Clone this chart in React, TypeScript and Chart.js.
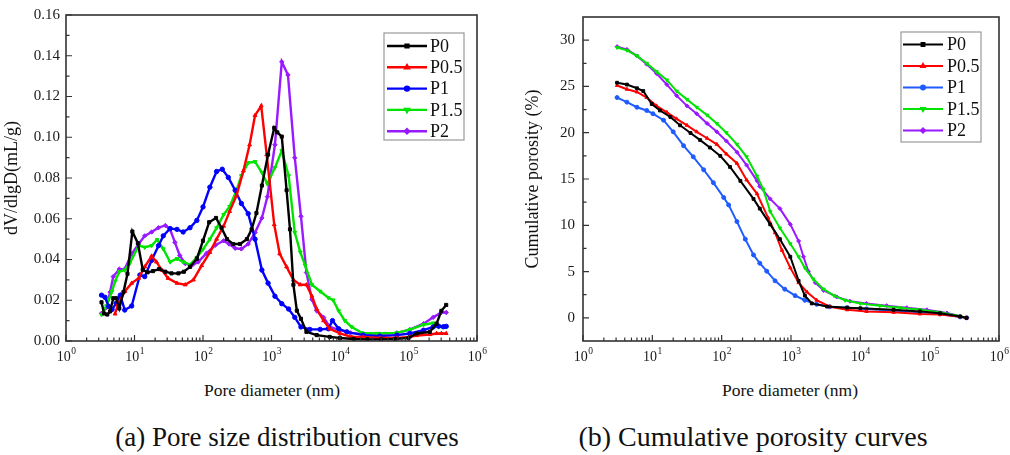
import { useEffect, useRef } from "react";
import { Chart, registerables } from "chart.js";
import { drawPoint } from "chart.js/helpers";

Chart.register(...registerables);

const FONT = "'Liberation Serif', 'Times New Roman', Times, 'DejaVu Serif', serif";

const seriesLabels = ["P0", "P0.5", "P1", "P1.5", "P2"];
const decades = [0, 1, 2, 3, 4, 5, 6];

// (a) pore size distribution, dV/dlgD (mL/g) vs pore diameter (nm)
const psdDiamP0 = [3.3, 3.6, 4.0, 4.4, 4.9, 5.4, 6.0, 6.9, 7.9, 9.3, 11.2, 13.2, 15.5, 18.6, 22.9, 28.2, 34.7, 43.7, 52.5, 64.6, 81.3, 100, 123, 155, 186, 224, 275, 347, 437, 513, 603, 724, 891, 1096, 1216, 1413, 1660, 1862, 2089, 2344, 2692, 3236, 4571, 7079, 10000, 15850, 25120, 39810, 63100, 100000, 131800, 204200, 257000, 302000, 355000];
const psdP0 = [0.019, 0.0135, 0.013, 0.0145, 0.021, 0.021, 0.016, 0.024, 0.033, 0.0537, 0.048, 0.035, 0.0337, 0.0343, 0.0353, 0.034, 0.0332, 0.0332, 0.034, 0.0364, 0.0404, 0.0492, 0.0583, 0.0604, 0.0556, 0.05, 0.0476, 0.0476, 0.05, 0.0548, 0.0628, 0.0763, 0.0915, 0.1046, 0.1024, 0.1003, 0.074, 0.0548, 0.0276, 0.0149, 0.0109, 0.0045, 0.0029, 0.002, 0.0015, 0.001, 0.0008, 0.0008, 0.001, 0.0015, 0.0037, 0.0045, 0.0085, 0.0148, 0.0177];

const psdDiamP05 = [5.2, 5.75, 7.24, 9.12, 11.5, 14.1, 17.8, 20.9, 25.1, 30.9, 41.7, 55, 72.4, 95.5, 126, 158, 200, 245, 309, 389, 479, 575, 708, 851, 1096, 1318, 1660, 2089, 2630, 3236, 3890, 4571, 5754, 7079, 10000, 14790, 21880, 38020, 67600, 104700, 131800, 204200, 257000, 302000, 355000];
const psdP05 = [0.0133, 0.018, 0.0244, 0.0284, 0.0308, 0.0364, 0.0417, 0.0388, 0.0348, 0.0308, 0.0284, 0.0276, 0.03, 0.037, 0.0435, 0.05, 0.0564, 0.0636, 0.0715, 0.0835, 0.0963, 0.1107, 0.1154, 0.0915, 0.0571, 0.0428, 0.0364, 0.03, 0.0276, 0.0276, 0.022, 0.0157, 0.01, 0.006, 0.0037, 0.002, 0.002, 0.0015, 0.0015, 0.002, 0.0027, 0.0032, 0.0037, 0.0037, 0.0037];

const psdDiamP1 = [3.3, 3.7, 4.2, 4.7, 5.4, 6.2, 7.2, 9.1, 12.0, 14.1, 17.8, 22.4, 26.3, 33.1, 41.7, 51.3, 64.6, 81.3, 100, 126, 158, 191, 234, 295, 363, 457, 575, 724, 891, 1122, 1413, 1778, 2188, 2692, 3631, 5129, 6761, 7762, 9550, 12590, 21880, 38020, 67600, 104700, 166000, 229100, 275400, 323600, 355000];
const psdP1 = [0.0225, 0.0215, 0.017, 0.0155, 0.0185, 0.0225, 0.0152, 0.0172, 0.0324, 0.0316, 0.0396, 0.0468, 0.0516, 0.0552, 0.0548, 0.0535, 0.0556, 0.0592, 0.0658, 0.0755, 0.0832, 0.0843, 0.0803, 0.074, 0.0675, 0.0625, 0.05, 0.0348, 0.0284, 0.022, 0.0183, 0.0157, 0.0116, 0.0069, 0.0057, 0.0057, 0.006, 0.01, 0.006, 0.0045, 0.0029, 0.0024, 0.0029, 0.0037, 0.0053, 0.0069, 0.0073, 0.007, 0.0072];

const psdDiamP15 = [3.3, 3.9, 4.7, 5.2, 6.0, 7.2, 8.5, 11.5, 14.1, 17.8, 21.4, 26.3, 33.1, 41.7, 51.3, 64.6, 81.3, 100, 126, 158, 200, 245, 309, 363, 457, 575, 724, 871, 1122, 1413, 1778, 2188, 2630, 3090, 3890, 5129, 6761, 7943, 9550, 11750, 14790, 20890, 34670, 67600, 104700, 166000, 229100, 275400, 323600, 355000];
const psdP15 = [0.0129, 0.0172, 0.0244, 0.0292, 0.034, 0.0348, 0.038, 0.0468, 0.046, 0.0468, 0.0497, 0.0452, 0.0388, 0.0404, 0.0388, 0.0375, 0.041, 0.045, 0.05, 0.0555, 0.062, 0.066, 0.074, 0.0811, 0.0875, 0.088, 0.0827, 0.0771, 0.0851, 0.0934, 0.0811, 0.0532, 0.0436, 0.0372, 0.0276, 0.0244, 0.0212, 0.0201, 0.0148, 0.01, 0.0069, 0.004, 0.0037, 0.004, 0.0056, 0.008, 0.0088, 0.0069, 0.007, 0.0069];

const psdDiamP2 = [3.3, 3.9, 4.4, 4.9, 6.0, 7.2, 9.1, 11.5, 14.1, 17.8, 22.4, 28.2, 33.1, 38.9, 45.7, 55, 69.2, 85.1, 112, 151, 200, 240, 295, 363, 457, 575, 724, 871, 1122, 1413, 1738, 2188, 2692, 3236, 3890, 4571, 5754, 7079, 10000, 14130, 21880, 38020, 67600, 104700, 166000, 229100, 302000, 355000];
const psdP2 = [0.0136, 0.0164, 0.024, 0.0316, 0.0353, 0.0353, 0.0428, 0.0476, 0.0516, 0.0535, 0.0556, 0.0567, 0.0548, 0.0484, 0.042, 0.038, 0.0372, 0.0388, 0.043, 0.047, 0.0492, 0.0476, 0.0455, 0.0452, 0.0476, 0.0532, 0.0604, 0.0708, 0.0963, 0.137, 0.1306, 0.0899, 0.0612, 0.0336, 0.0204, 0.0148, 0.0116, 0.0069, 0.0053, 0.004, 0.0034, 0.0034, 0.004, 0.0056, 0.0085, 0.0116, 0.014, 0.014];

const psdYTicks = [0, 0.02, 0.04, 0.06, 0.08, 0.1, 0.12, 0.14, 0.16];

// (b) cumulative porosity (%) vs pore diameter (nm)
const cumDiamP0 = [3.1, 4.3, 6.0, 7.4, 9.8, 12.9, 18.2, 25.1, 35.5, 49.0, 67.6, 95.5, 132, 186, 288, 355, 501, 692, 977, 1288, 1585, 1995, 3311, 6457, 10000, 30200, 72440, 141300, 275400, 340000];
const cumP0 = [25.4, 25.2, 24.8, 24.5, 23.1, 22.4, 21.7, 20.8, 19.97, 19.2, 18.4, 17.5, 16.3, 14.8, 12.85, 11.8, 10.1, 8.5, 6.6, 4.0, 2.4, 1.56, 1.22, 1.1, 1.04, 0.87, 0.7, 0.5, 0.15, 0.0];

const cumDiamP05 = [3.1, 4.3, 6.0, 8.3, 11.5, 16.2, 22.4, 31.6, 43.7, 61.7, 85.1, 117, 166, 229, 324, 468, 589, 741, 977, 1288, 1698, 2344, 3631, 6457, 12300, 30200, 72440, 141300, 275400, 340000];
const cumP05 = [25.1, 24.7, 24.4, 23.8, 22.9, 22.2, 21.5, 20.8, 20.1, 19.4, 18.75, 17.7, 16.7, 14.9, 13.4, 10.8, 9.2, 7.3, 5.4, 3.8, 2.8, 1.9, 1.2, 0.87, 0.7, 0.6, 0.42, 0.35, 0.12, 0.0];

const cumDiamP1 = [3.1, 4.3, 6.0, 8.3, 10.2, 14.5, 20.0, 28.2, 38.9, 55.0, 75.9, 107, 126, 166, 219, 288, 355, 447, 589, 813, 1148, 1585, 2344, 3631, 6457, 12300, 30200, 72440, 141300, 275400, 340000];
const cumP1 = [23.8, 23.3, 22.75, 22.4, 22.05, 21.35, 20.1, 18.6, 17.4, 16.0, 14.6, 13.0, 12.2, 10.4, 8.5, 6.8, 5.9, 5.04, 4.0, 3.1, 2.4, 1.9, 1.46, 1.2, 1.1, 0.97, 0.77, 0.6, 0.42, 0.1, 0.0];

const cumDiamP15 = [3.1, 4.3, 6.0, 8.3, 11.5, 16.2, 22.4, 31.6, 43.7, 61.7, 85.1, 117, 166, 229, 324, 398, 501, 692, 977, 1288, 1585, 2089, 2951, 4169, 6026, 10000, 19050, 37150, 72440, 141300, 275400, 340000];
const cumP15 = [29.2, 28.9, 28.3, 27.5, 26.6, 25.7, 24.5, 23.6, 22.75, 21.9, 21.0, 20.0, 18.75, 17.4, 15.3, 13.9, 11.5, 9.7, 8.0, 6.6, 5.4, 4.2, 3.1, 2.4, 1.9, 1.56, 1.3, 1.1, 0.87, 0.6, 0.17, 0.0];

const cumDiamP2 = [3.1, 4.3, 6.0, 8.3, 11.5, 16.2, 22.4, 31.6, 43.7, 61.7, 85.1, 117, 166, 229, 324, 355, 501, 692, 977, 1288, 1514, 1778, 2239, 2951, 4571, 7079, 12300, 24000, 46770, 91200, 177800, 346700];
const cumP2 = [29.3, 29.0, 28.3, 27.4, 26.4, 25.2, 24.0, 22.9, 22.05, 21.0, 20.1, 19.1, 17.9, 16.5, 14.8, 14.2, 12.85, 11.8, 10.1, 8.3, 6.6, 5.04, 3.8, 2.96, 2.26, 1.8, 1.56, 1.32, 1.1, 0.87, 0.52, 0.0];

const cumYTicks = [0, 5, 10, 15, 20, 25, 30];

const colorsA = ["#000000", "#ff0000", "#0000ff", "#00e400", "#9a1aff"];
const colorsB = ["#000000", "#ff0000", "#1f5cff", "#00e400", "#9a1aff"];
const pointStyles = ["rect", "triangle", "circle", "triangle", "rectRot"];
const pointRotations = [0, 0, 0, 180, 0];

const toPoints = (xs: number[], ys: number[]) => xs.map((x, i) => ({ x, y: ys[i] }));

// frame, inward ticks, superscript x labels and a boxed legend
const decoPlugin = {
  id: "deco",
  afterDatasetsDraw(chart: any) {
    const o = chart.options.plugins.deco;
    const { ctx, chartArea: a, scales } = chart;
    const xs = scales.x;
    const ys = scales.y;
    ctx.save();
    ctx.strokeStyle = "#333";
    ctx.lineWidth = 1.6;
    ctx.strokeRect(a.left, a.top, a.right - a.left, a.bottom - a.top);

    ctx.lineWidth = 1.2;
    ctx.beginPath();
    decades.forEach((k) => {
      const base = 10 ** k;
      const px = xs.getPixelForValue(base);
      ctx.moveTo(px, a.bottom);
      ctx.lineTo(px, a.bottom - 6);
      if (k < 6) {
        for (let m = 2; m <= 9; m++) {
          const p = xs.getPixelForValue(m * base);
          ctx.moveTo(p, a.bottom);
          ctx.lineTo(p, a.bottom - 3.5);
        }
      }
    });
    const yt: number[] = o.yTicks;
    yt.forEach((v, i) => {
      const py = ys.getPixelForValue(v);
      ctx.moveTo(a.left, py);
      ctx.lineTo(a.left + 6, py);
      const nxt = i < yt.length - 1 ? yt[i + 1] : v + (v - yt[i - 1]);
      const pm = ys.getPixelForValue((v + nxt) / 2);
      if (pm > a.top + 1) {
        ctx.moveTo(a.left, pm);
        ctx.lineTo(a.left + 3.5, pm);
      }
    });
    ctx.stroke();

    // x tick labels 10^k
    ctx.fillStyle = "#1a1a1a";
    ctx.textAlign = "left";
    ctx.textBaseline = "alphabetic";
    decades.forEach((k) => {
      const px = xs.getPixelForValue(10 ** k);
      ctx.font = `14px ${FONT}`;
      const w1 = ctx.measureText("10").width;
      ctx.font = `9.5px ${FONT}`;
      const w2 = ctx.measureText(String(k)).width;
      const x0 = px - (w1 + w2) / 2;
      ctx.font = `14px ${FONT}`;
      ctx.fillText("10", x0, a.bottom + 20);
      ctx.font = `9.5px ${FONT}`;
      ctx.fillText(String(k), x0 + w1 + 0.5, a.bottom + 13);
    });

    // legend box
    const L = o.legend;
    const bx = a.right - L.right;
    const by = a.top + L.top;
    ctx.fillStyle = "#ffffff";
    ctx.fillRect(bx, by, L.w, L.h);
    ctx.strokeStyle = "#999";
    ctx.lineWidth = 1.2;
    ctx.strokeRect(bx, by, L.w, L.h);
    chart.data.datasets.forEach((ds: any, i: number) => {
      const y = by + L.first + i * L.step;
      ctx.strokeStyle = ds.borderColor;
      ctx.fillStyle = ds.borderColor;
      ctx.lineWidth = ds.borderWidth;
      ctx.beginPath();
      ctx.moveTo(bx + L.lineX0, y);
      ctx.lineTo(bx + L.lineX1, y);
      ctx.stroke();
      drawPoint(ctx, { pointStyle: ds.pointStyle, rotation: ds.pointRotation || 0, radius: 2, borderWidth: 1 } as any, bx + (L.lineX0 + L.lineX1) / 2, y);
      ctx.fillStyle = "#111";
      ctx.font = `18px ${FONT}`;
      ctx.textBaseline = "middle";
      ctx.fillText(ds.label, bx + L.textX, y + 1);
    });
    ctx.restore();
  },
};

function makeConfig(cfg: any) {
  return {
    type: "line" as const,
    data: {
      datasets: cfg.series.map((s: any, i: number) => ({
        label: seriesLabels[i],
        data: toPoints(s[0], s[1]),
        borderColor: cfg.colors[i],
        backgroundColor: cfg.colors[i],
        borderWidth: cfg.lineWidth,
        pointStyle: pointStyles[i],
        pointRotation: pointRotations[i],
        pointRadius: cfg.pointRadius,
        pointBorderWidth: 1,
        tension: 0,
      })),
    },
    options: {
      responsive: false,
      animation: false as const,
      layout: { padding: { top: cfg.padTop, right: cfg.padRight, left: 0, bottom: 0 } },
      plugins: {
        legend: { display: false },
        tooltip: { enabled: false },
        deco: { yTicks: cfg.yTicks, legend: cfg.legend },
      },
      scales: {
        x: {
          type: "logarithmic" as const,
          min: 1,
          max: 1e6,
          grid: { display: false },
          border: { display: false },
          ticks: { display: false },
          afterFit: (s: any) => {
            s.height = 34;
          },
        },
        y: {
          type: "linear" as const,
          min: cfg.yMin,
          max: cfg.yMax,
          grid: { display: false, drawTicks: false },
          border: { display: false },
          afterBuildTicks: (s: any) => {
            s.ticks = cfg.yTicks.map((v: number) => ({ value: v }));
          },
          afterFit: (s: any) => {
            s.width = cfg.yWidth;
          },
          ticks: {
            color: "#1a1a1a",
            padding: cfg.tickPad,
            font: { family: FONT, size: 15 },
            callback: cfg.yFormat,
          },
          title: {
            display: true,
            text: cfg.yTitle,
            color: "#111",
            font: { family: FONT, size: 18 },
            padding: { top: cfg.titlePad, bottom: 0 },
          },
        },
      },
    },
    plugins: [decoPlugin],
  };
}

const textStyle = (left: number, top: number, size: number): React.CSSProperties => ({
  position: "absolute",
  left,
  top,
  transform: "translate(-50%, -50%)",
  fontFamily: FONT,
  fontSize: size,
  color: "#111",
  whiteSpace: "nowrap",
});

export default function App() {
  const leftRef = useRef<HTMLCanvasElement>(null);
  const rightRef = useRef<HTMLCanvasElement>(null);

  useEffect(() => {
    if (!leftRef.current || !rightRef.current) return;
    const left = new Chart(
      leftRef.current,
      makeConfig({
        series: [
          [psdDiamP0, psdP0],
          [psdDiamP05, psdP05],
          [psdDiamP1, psdP1],
          [psdDiamP15, psdP15],
          [psdDiamP2, psdP2],
        ],
        colors: colorsA,
        lineWidth: 2.4,
        pointRadius: 2.2,
        padTop: 7,
        padRight: 23,
        yMin: 0,
        yMax: 0.16,
        yTicks: psdYTicks,
        yWidth: 66,
        tickPad: 6,
        titlePad: 1,
        yTitle: "dV/dlgD(mL/g)",
        yFormat: (v: any) => Number(v).toFixed(2),
        legend: { right: 93, top: 18, w: 80, h: 107, first: 13, step: 21.3, lineX0: 3, lineX1: 43, textX: 46 },
      }) as any
    );
    const right = new Chart(
      rightRef.current,
      makeConfig({
        series: [
          [cumDiamP0, cumP0],
          [cumDiamP05, cumP05],
          [cumDiamP1, cumP1],
          [cumDiamP15, cumP15],
          [cumDiamP2, cumP2],
        ],
        colors: colorsB,
        lineWidth: 2,
        pointRadius: 2,
        padTop: 5,
        padRight: 11,
        yMin: -2.5,
        yMax: 32.5,
        yTicks: cumYTicks,
        yWidth: 78,
        tickPad: 8,
        titlePad: 17,
        yTitle: "Cumulative porosity (%)",
        yFormat: (v: any) => String(v),
        legend: { right: 98, top: 15, w: 80, h: 110, first: 12.5, step: 21.5, lineX0: 2, lineX1: 42, textX: 46 },
      }) as any
    );
    return () => {
      left.destroy();
      right.destroy();
    };
  }, []);

  return (
    <div style={{ position: "absolute", left: 0, top: 0, width: 1010, height: 455, background: "#fff", overflow: "hidden" }}>
      <canvas ref={leftRef} width={500} height={375} style={{ position: "absolute", left: 0, top: 0, width: 500, height: 375 }} />
      <canvas ref={rightRef} width={505} height={375} style={{ position: "absolute", left: 505, top: 0, width: 505, height: 375 }} />
      <div style={textStyle(272, 390, 17.5)}>Pore diameter (nm)</div>
      <div style={textStyle(790, 390, 17.5)}>Pore diameter (nm)</div>
      <div style={textStyle(287, 437, 27)}>(a) Pore size distribution curves</div>
      <div style={textStyle(753, 437, 28)}>(b) Cumulative porosity curves</div>
    </div>
  );
}
